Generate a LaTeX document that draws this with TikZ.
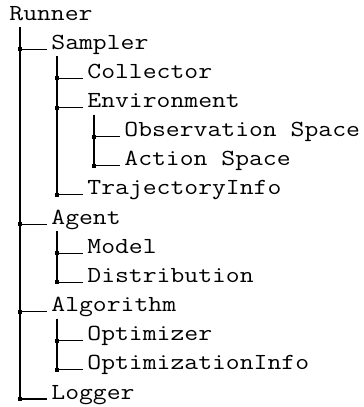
\documentclass[tikz,border=0pt]{standalone}
\usepackage{fontspec}
\setmonofont[FakeStretch=1.17]{Latin Modern Mono}
\usetikzlibrary{positioning}

\tikzset{
  item/.style={anchor=base west, inner sep=0pt, font=\ttfamily\fontsize{11.5}{14}\selectfont},
  branch/.style={line width=0.55pt, shorten >=2.25pt},
  knot/.style={fill, inner sep=0pt, minimum size=2pt}
}

\begin{document}
\begin{tikzpicture}[x=0.5pt,y=-0.5pt]
  \useasboundingbox (0,0) rectangle (364,407);

  \node [item] (runner) at (9,20) {Runner};
  \node [item] (sampler) at (51,49.2) {Sampler};
  \node [item] (collector) at (87,78.3) {Collector};
  \node [item] (environment) at (87,107.5) {Environment};
  \node [item] (obsspace) at (124,136.6) {Observation Space};
  \node [item] (actspace) at (124,165.8) {Action Space};
  \node [item] (trajinfo) at (87,194.9) {TrajectoryInfo};
  \node [item] (agent) at (51,224.1) {Agent};
  \node [item] (model) at (87,253.2) {Model};
  \node [item] (distribution) at (87,282.4) {Distribution};
  \node [item] (algorithm) at (51,311.5) {Algorithm};
  \node [item] (optimizer) at (87,340.7) {Optimizer};
  \node [item] (optinfo) at (87,369.8) {OptimizationInfo};
  \node [item] (logger) at (51,399) {Logger};

  % stems below the parents
  \coordinate (runner-s) at ([shift={(11,7)}]runner.base west);
  \coordinate (sampler-s) at ([shift={(6,7)}]sampler.base west);
  \coordinate (environment-s) at ([shift={(7,7)}]environment.base west);
  \coordinate (agent-s) at ([shift={(6,7)}]agent.base west);
  \coordinate (algorithm-s) at ([shift={(6,7)}]algorithm.base west);

  \foreach \p/\c in {runner/sampler, runner/agent, runner/algorithm, runner/logger,
                     sampler/collector, sampler/environment, sampler/trajinfo,
                     environment/obsspace, environment/actspace,
                     agent/model, agent/distribution,
                     algorithm/optimizer, algorithm/optinfo} {
    \draw [branch] (\p-s) |- (\c.base west);
    \node [knot] at (\p-s |- \c.base) {};
  }
\end{tikzpicture}
\end{document}
